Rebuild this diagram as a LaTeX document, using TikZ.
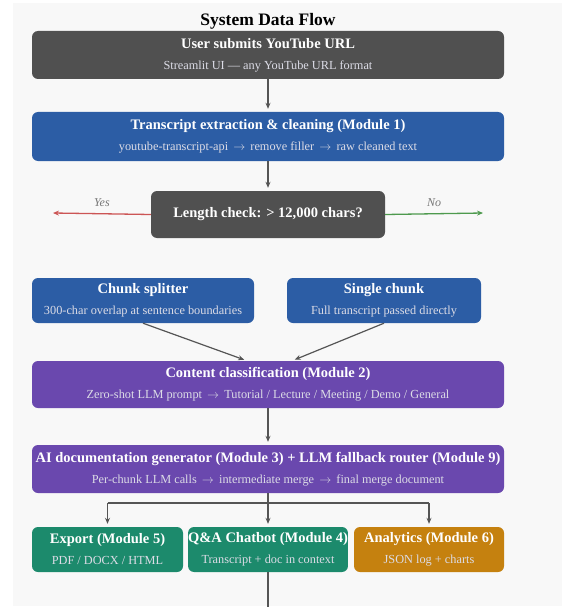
\documentclass[tikz,border=0pt]{standalone}
\usepackage{fontspec}
\setmainfont{Liberation Serif}
\usetikzlibrary{arrows.meta,calc}
\definecolor{bgc}{HTML}{F8F8F8}
\definecolor{darkbox}{HTML}{505050}
\definecolor{bluebox}{HTML}{2C5DA5}
\definecolor{purplebox}{HTML}{6A48AE}
\definecolor{greenbox}{HTML}{1C8A6C}
\definecolor{orangebox}{HTML}{C5810F}
\definecolor{subtxt}{HTML}{DCDCE6}
\definecolor{arrowc}{HTML}{555555}
\definecolor{yesc}{HTML}{CC5555}
\definecolor{noc}{HTML}{4E9A4E}
\newcommand{\ttl}[1]{{\fontsize{14.5}{16}\selectfont\bfseries #1}}
\newcommand{\sbt}[1]{{\fontsize{12.3}{14}\selectfont\color{subtxt}#1}}
\begin{document}
\begin{tikzpicture}[x=1pt,y=-1pt,
  box/.style={draw=none,rounded corners=6pt,text=white,align=center,inner sep=0pt},
  flow/.style={draw=arrowc,line width=1.2pt,-{Stealth[length=6pt,width=5pt]},shorten >=3pt},
  plain/.style={draw=arrowc,line width=1.2pt},
  lbl/.style={font=\fontsize{12}{14}\selectfont\itshape,text=arrowc!80}]
\useasboundingbox (0,0) rectangle (564,607);
\fill[white] (0,0) rectangle (564,607);
\fill[bgc] (13,3) rectangle (562,606);

\node[font=\fontsize{17.5}{20}\selectfont\bfseries] (title) at (268,21) {System Data Flow};

\node[box,fill=darkbox,minimum width=472pt,minimum height=48pt] (user) at (268,55)
  {\ttl{User submits YouTube URL}\\[9pt]\sbt{Streamlit UI — any YouTube URL format}};
\node[box,fill=bluebox,minimum width=472pt,minimum height=49pt] (trans) at (268,136.5)
  {\ttl{Transcript extraction \& cleaning (Module 1)}\\[9pt]\sbt{youtube-transcript-api \,$\rightarrow$\, remove filler \,$\rightarrow$\, raw cleaned text}};
\node[box,fill=darkbox,minimum width=234pt,minimum height=47pt] (check) at (268,214.5)
  {\ttl{Length check: > 12,000 chars?}};
\coordinate (yesend) at (53,213);
\coordinate (noend) at (483,213);

\node[box,fill=bluebox,minimum width=222pt,minimum height=45pt] (chunk) at (143,300.5)
  {\ttl{Chunk splitter}\\[9pt]\sbt{300-char overlap at sentence boundaries}};
\node[box,fill=bluebox,minimum width=194pt,minimum height=45pt] (single) at (384,300.5)
  {\ttl{Single chunk}\\[9pt]\sbt{Full transcript passed directly}};

\node[box,fill=purplebox,minimum width=472pt,minimum height=47pt] (classif) at (268,384.5)
  {\ttl{Content classification (Module 2)}\\[9pt]\sbt{Zero-shot LLM prompt \,$\rightarrow$\, Tutorial / Lecture / Meeting / Demo / General}};
\node[box,fill=purplebox,minimum width=472pt,minimum height=48pt] (aigen) at (268,469)
  {\ttl{AI documentation generator (Module 3) + LLM fallback router (Module 9)}\\[9pt]\sbt{Per-chunk LLM calls \,$\rightarrow$\, intermediate merge \,$\rightarrow$\, final merge document}};

\node[box,fill=greenbox,minimum width=151pt,minimum height=45pt] (export) at (107.5,549.5)
  {\ttl{Export (Module 5)}\\[9pt]\sbt{PDF / DOCX / HTML}};
\node[box,fill=greenbox,minimum width=150pt,minimum height=45pt] (qa) at (268,549.5)
  {\ttl{Q\&A Chatbot (Module 4)}\\[9pt]\sbt{Transcript + doc in context}};
\node[box,fill=orangebox,minimum width=150pt,minimum height=45pt] (analytics) at (429,549.5)
  {\ttl{Analytics (Module 6)}\\[9pt]\sbt{JSON log + charts}};

\coordinate (split) at (268,503);
\coordinate (splitl) at (107.5,503);
\coordinate (splitr) at (429,503);
\coordinate (bottom) at (268,607);

\draw[flow] (user) -- (trans);
\draw[flow] (trans) -- (check);
\draw[draw=yesc,line width=1.3pt,-{Stealth[length=6pt,width=5pt]}] (check.west) -- (yesend)
  node[lbl,pos=0.5,above=3pt] (yeslbl) {Yes};
\draw[draw=noc,line width=1.3pt,-{Stealth[length=6pt,width=5pt]}] (check.east) -- (noend)
  node[lbl,pos=0.5,above=3pt] (nolbl) {No};
\draw[flow] (chunk.south) -- ($(classif.north)+(-21,0)$);
\draw[flow] (single.south) -- ($(classif.north)+(24,0)$);
\draw[flow] (classif) -- (aigen);
\draw[plain] (aigen.south) -- (split);
\draw[plain] (splitl) -- (splitr);
\draw[flow] (splitl) -- (export.north);
\draw[flow] (split) -- (qa.north);
\draw[flow] (splitr) -- (analytics.north);
\draw[plain] (qa.south) -- (bottom);
\end{tikzpicture}
\end{document}
